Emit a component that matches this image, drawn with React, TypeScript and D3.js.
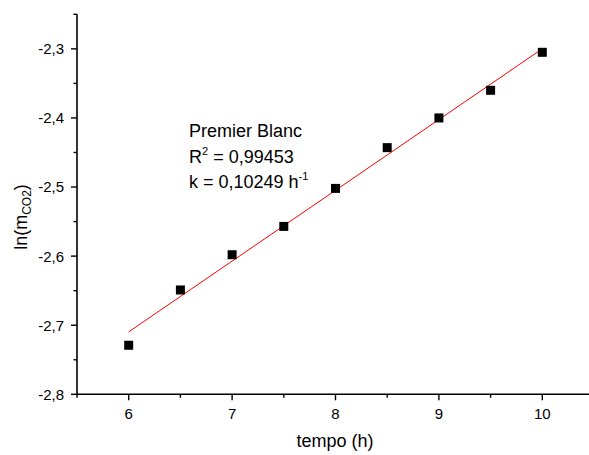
import React from "react";
import * as d3 from "d3";

const hours = [6, 6.5, 7, 7.5, 8, 8.5, 9, 9.5, 10];
const lnMass = [-2.729, -2.649, -2.598, -2.557, -2.502, -2.443, -2.4, -2.36, -2.305];
const xTicks = [6, 7, 8, 9, 10];
const xMinorTicks = [5.5, 6.5, 7.5, 8.5, 9.5, 10.5];
const yTicks = [-2.8, -2.7, -2.6, -2.5, -2.4, -2.3];
const yMinorTicks = [-2.75, -2.65, -2.55, -2.45, -2.35, -2.25];
const annotation = ["Premier Blanc", "R", "k = 0,10249 h"];

const W = 589;
const H = 455;
const FONT = "'Liberation Sans', Arial, sans-serif";

export default function App() {
  const x = d3.scaleLinear().domain([5.5, 10.5]).range([77, 594]);
  const y = d3.scaleLinear().domain([-2.8, -2.25]).range([394.3, 14.3]);

  const n = hours.length;
  const mx = d3.mean(hours) as number;
  const my = d3.mean(lnMass) as number;
  let sxy = 0, sxx = 0;
  for (let i = 0; i < n; i++) {
    sxy += (hours[i] - mx) * (lnMass[i] - my);
    sxx += (hours[i] - mx) ** 2;
  }
  const slope = sxy / sxx;
  const intercept = my - slope * mx;
  const fitX = [6, 10];
  const line = d3
    .line<number>()
    .x((d) => x(d))
    .y((d) => y(intercept + slope * d));

  const fmt = (v: number) => d3.format(".1f")(v).replace(".", ",").replace("−", "-");
  const x0 = x(5.5);
  const yb = y(-2.8);
  const ms = 9;

  return (
    <svg
      width={W}
      height={H}
      style={{ position: "absolute", left: 0, top: 0, background: "#fff" }}
      fontFamily={FONT}
    >
      <rect width={W} height={H} fill="#fff" />
      {/* axes */}
      <line x1={x0} x2={x0} y1={y(-2.25)} y2={yb} stroke="#000" strokeWidth={1.6} />
      <line x1={x0} x2={x(10.5)} y1={yb} y2={yb} stroke="#000" strokeWidth={1.6} />
      {yTicks.map((t) => (
        <g key={"yt" + t}>
          <line x1={x0 - 6} x2={x0} y1={y(t)} y2={y(t)} stroke="#000" strokeWidth={1.4} />
          <text x={x0 - 13} y={y(t)} dy="0.36em" textAnchor="end" fontSize={15} fill="#000">
            {fmt(t)}
          </text>
        </g>
      ))}
      {yMinorTicks.map((t) => (
        <line key={"ym" + t} x1={x0 - 3.5} x2={x0} y1={y(t)} y2={y(t)} stroke="#000" strokeWidth={1.4} />
      ))}
      {xTicks.map((t) => (
        <g key={"xt" + t}>
          <line x1={x(t)} x2={x(t)} y1={yb} y2={yb + 6} stroke="#000" strokeWidth={1.4} />
          <text x={x(t)} y={419} textAnchor="middle" fontSize={15} fill="#000">
            {t}
          </text>
        </g>
      ))}
      {xMinorTicks.map((t) => (
        <line key={"xm" + t} x1={x(t)} x2={x(t)} y1={yb} y2={yb + 3.5} stroke="#000" strokeWidth={1.4} />
      ))}
      {/* axis titles */}
      <text x={335} y={447} textAnchor="middle" fontSize={18} fill="#000">
        tempo (h)
      </text>
      <text
        transform={`translate(27, 217) rotate(-90)`}
        textAnchor="middle"
        fontSize={18}
        fill="#000"
      >
        ln(m
        <tspan fontSize={12} dy={4}>CO2</tspan>
        <tspan dy={-4}>)</tspan>
      </text>
      {/* fit line */}
      <path d={line(fitX) || ""} fill="none" stroke="#ff0000" strokeWidth={1} />
      {/* points */}
      {hours.map((h, i) => (
        <rect
          key={"p" + i}
          x={x(h) - ms / 2}
          y={y(lnMass[i]) - ms / 2}
          width={ms}
          height={ms}
          fill="#000"
        />
      ))}
      {/* annotation */}
      <text x={189} y={137} fontSize={18} fill="#000">
        {annotation[0]}
      </text>
      <text x={189} y={163} fontSize={18} fill="#000">
        {annotation[1]}
        <tspan fontSize={11} dy={-8}>2</tspan>
        <tspan dy={8}> = 0,99453</tspan>
      </text>
      <text x={189} y={188} fontSize={18} fill="#000">
        {annotation[2]}
        <tspan fontSize={11} dy={-8}>-1</tspan>
      </text>
    </svg>
  );
}
